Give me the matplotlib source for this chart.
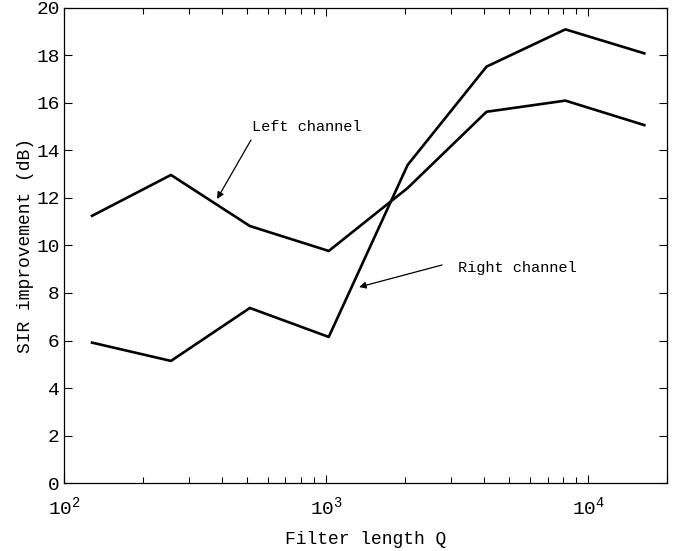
import matplotlib
matplotlib.use("Agg")
from matplotlib import pyplot as plt
from matplotlib.ticker import LogLocator, FixedLocator


# --------------------------- DATA ---------------------------

filter_length = [128, 256, 512, 1024, 2048, 4096, 8192, 16384]
left_channel = [11.25, 12.97, 10.82, 9.77, 12.42, 15.63, 16.1, 15.07]
right_channel = [5.91, 5.14, 7.37, 6.15, 13.39, 17.53, 19.1, 18.09]


# --------------------------- STYLE ---------------------------

plt.rcParams['font.family'] = ['Liberation Mono', 'DejaVu Sans Mono']
plt.rcParams['mathtext.fontset'] = 'custom'
plt.rcParams['mathtext.rm'] = 'Liberation Mono'
plt.rcParams['mathtext.default'] = 'rm'


# --------------------------- PLOT ---------------------------

fig = plt.figure(figsize=(6.85, 5.51), dpi=100)
ax = fig.add_axes([0.0934, 0.1234, 0.8803, 0.8621])

ax.plot(filter_length, left_channel, color='black', linewidth=1.9)
ax.plot(filter_length, right_channel, color='black', linewidth=1.9)

ax.set_xscale('log')
ax.set_xlim(100, 20000)
ax.set_ylim(0, 20)
ax.set_yticks(range(0, 21, 2))
ax.xaxis.set_major_locator(FixedLocator([1e2, 1e3, 1e4]))
ax.xaxis.set_minor_locator(LogLocator(base=10, subs=range(2, 10)))

ax.tick_params(which='both', direction='in', top=True, right=True,
               labelsize=14, width=0.8)
ax.tick_params(which='major', length=6)
ax.tick_params(which='minor', length=4)
ax.tick_params(axis='x', pad=9)
ax.tick_params(axis='y', pad=3)
for side in ax.spines.values():
    side.set_linewidth(0.9)

ax.set_xlabel("Filter length Q", fontsize=13, labelpad=9)
ax.set_ylabel("SIR improvement (dB)", fontsize=13, labelpad=2)

# channel labels with arrows
arrow = dict(arrowstyle='-|>', color='black', lw=0.9,
             mutation_scale=10, shrinkA=0, shrinkB=0)
ax.text(520, 14.82, "Left channel", fontsize=11, ha='left', va='baseline')
ax.annotate("", xy=(384, 11.96), xytext=(517, 14.44), arrowprops=arrow)
ax.text(3190, 9.05, "Right channel", fontsize=11, ha='left', va='center')
ax.annotate("", xy=(1337, 8.25), xytext=(2773, 9.18), arrowprops=arrow)

fig.savefig("out.png", dpi=100)
